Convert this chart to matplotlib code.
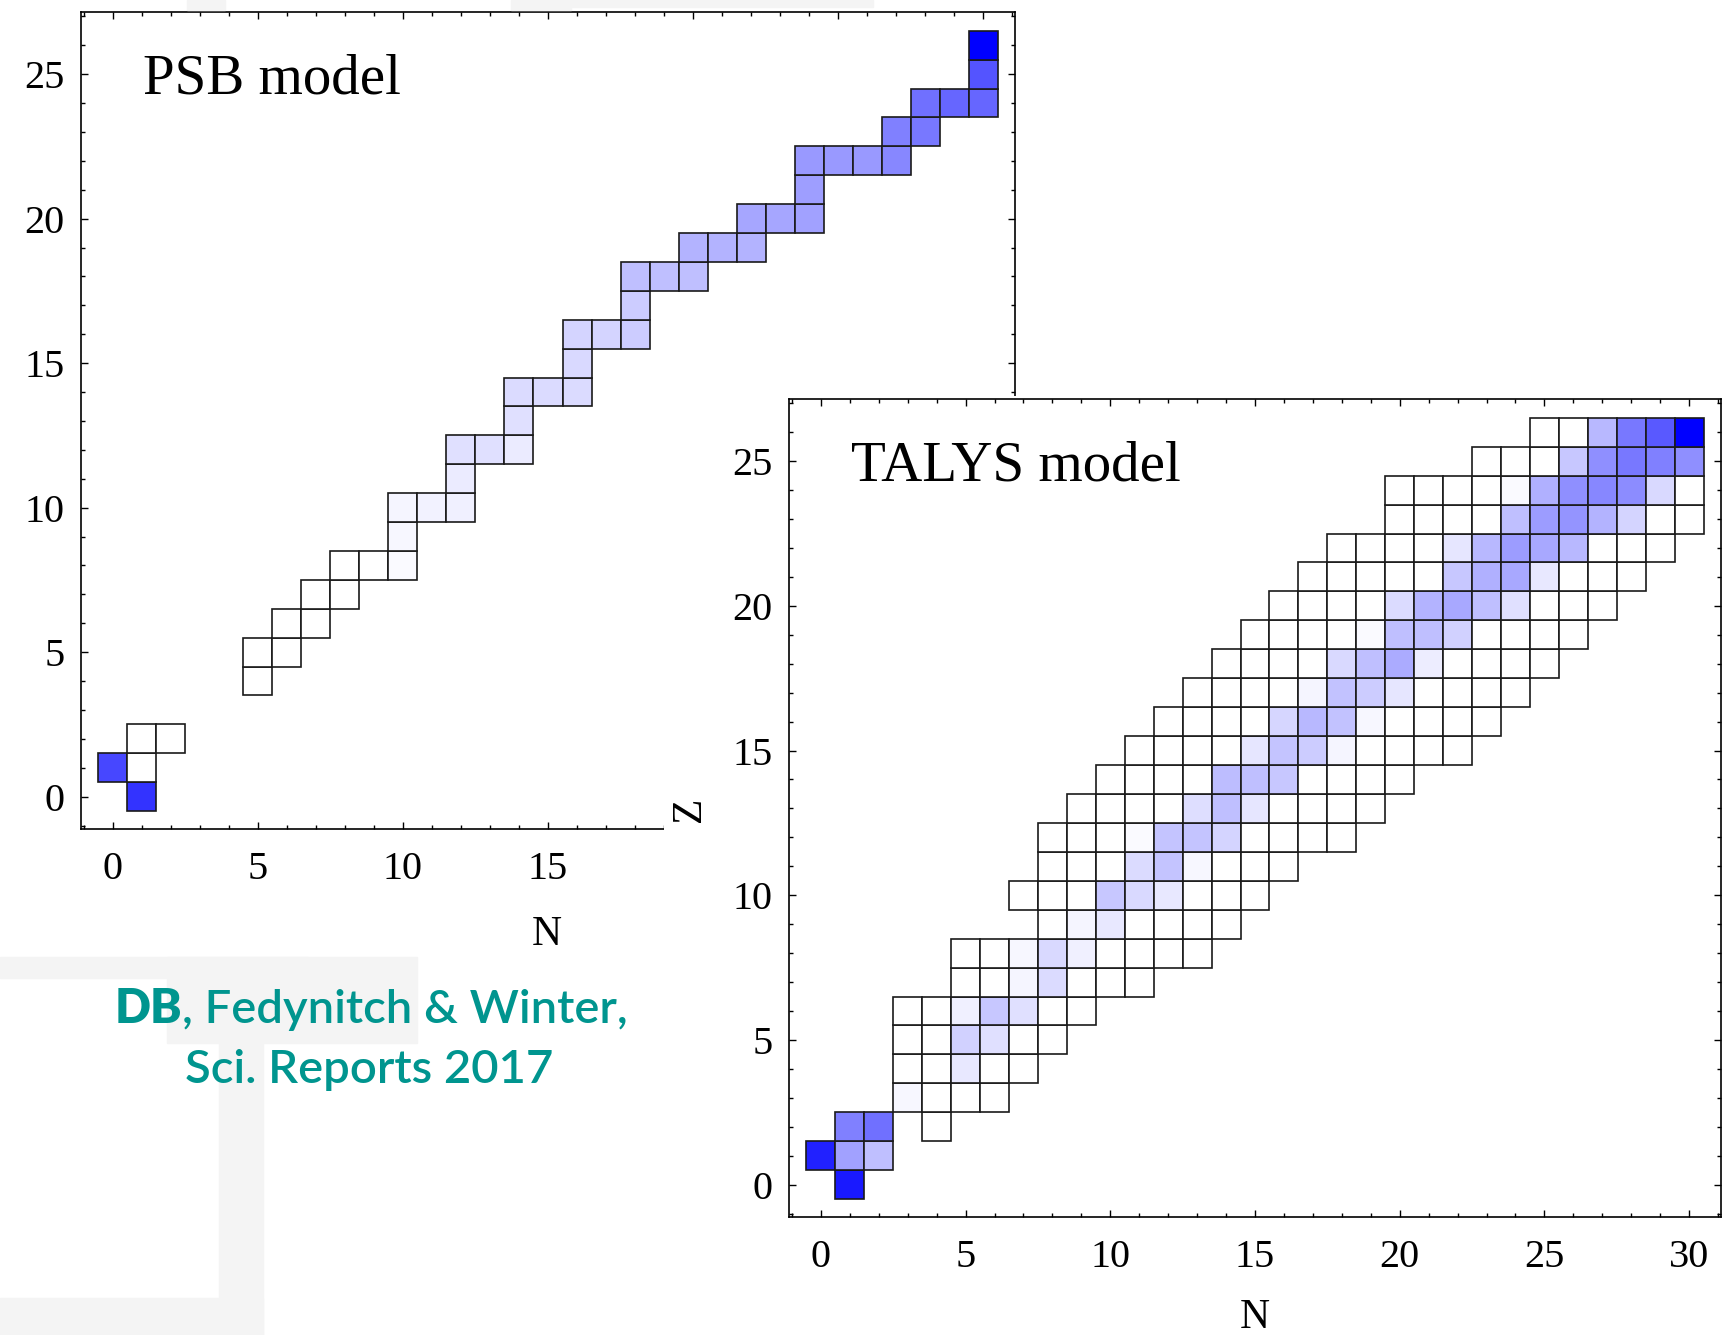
import matplotlib
matplotlib.use("Agg")
import matplotlib.pyplot as plt
from matplotlib.patches import Rectangle
from matplotlib.ticker import MultipleLocator

# --- data ---
# PSB model: occupied cells (N, Z) and blue shade (0 = white, 1 = pure blue)
psb_N = [1, 0, 1, 1, 2,
         5, 5, 6, 6, 7, 7, 8, 8, 9, 10, 10, 10, 11, 12, 12, 12, 13, 14, 14, 14,
         15, 16, 16, 16, 17, 18, 18, 18, 19, 20, 20, 21, 22, 22, 23, 24, 24, 24,
         25, 26, 27, 27, 28, 28, 29, 30, 30, 30]
psb_Z = [0, 1, 1, 2, 2,
         4, 5, 5, 6, 6, 7, 7, 8, 8, 8, 9, 10, 10, 10, 11, 12, 12, 12, 13, 14,
         14, 14, 15, 16, 16, 16, 17, 18, 18, 18, 19, 19, 19, 20, 20, 20, 21, 22,
         22, 22, 22, 23, 23, 24, 24, 24, 25, 26]
psb_f = [0.80, 0.72, 0.0, 0.0, 0.0,
         0.0, 0.0, 0.0, 0.0, 0.0, 0.0, 0.0, 0.0, 0.0, 0.02, 0.03, 0.04, 0.05, 0.06, 0.08, 0.12, 0.12, 0.08, 0.12, 0.14,
         0.14, 0.14, 0.15, 0.17, 0.17, 0.20, 0.20, 0.25, 0.25, 0.25, 0.30, 0.30, 0.30, 0.35, 0.35, 0.37, 0.38, 0.40,
         0.40, 0.40, 0.47, 0.50, 0.53, 0.56, 0.60, 0.60, 0.67, 1.00]

# TALYS model: row segments (Z, first N, last N)
talys_rows = [(0, 1, 1), (1, 0, 2), (2, 1, 2), (2, 4, 4), (3, 3, 6), (4, 3, 7),
              (5, 3, 8), (6, 3, 9), (7, 5, 11), (8, 5, 13), (9, 8, 14), (10, 7, 15),
              (11, 8, 16), (12, 8, 18), (13, 9, 19), (14, 10, 20), (15, 11, 22),
              (16, 12, 23), (17, 13, 24), (18, 14, 25), (19, 15, 26), (20, 16, 27),
              (21, 17, 28), (22, 18, 29), (23, 20, 30), (24, 20, 30), (25, 23, 30),
              (26, 25, 30)]
# TALYS shaded cells {(N, Z): shade}, everything else white
talys_shade = {
    (1, 0): 0.90,
    (0, 1): 0.87, (1, 1): 0.37, (2, 1): 0.25,
    (1, 2): 0.50, (2, 2): 0.56,
    (3, 3): 0.03,
    (5, 4): 0.09,
    (5, 5): 0.18, (6, 5): 0.12,
    (5, 6): 0.06, (6, 6): 0.22, (7, 6): 0.12,
    (7, 7): 0.04, (8, 7): 0.14,
    (7, 8): 0.03, (8, 8): 0.15, (9, 8): 0.06,
    (9, 9): 0.04, (10, 9): 0.09,
    (10, 10): 0.22, (11, 10): 0.15, (12, 10): 0.09,
    (11, 11): 0.14, (12, 11): 0.23, (13, 11): 0.03,
    (11, 12): 0.02, (12, 12): 0.23, (13, 12): 0.23, (14, 12): 0.17,
    (13, 13): 0.13, (14, 13): 0.25, (15, 13): 0.10,
    (14, 14): 0.26, (15, 14): 0.25, (16, 14): 0.22,
    (15, 15): 0.10, (16, 15): 0.23, (17, 15): 0.20, (18, 15): 0.04,
    (16, 16): 0.16, (17, 16): 0.28, (18, 16): 0.24, (19, 16): 0.03,
    (17, 17): 0.04, (18, 17): 0.24, (19, 17): 0.20, (20, 17): 0.10,
    (18, 18): 0.15, (19, 18): 0.25, (20, 18): 0.33, (21, 18): 0.07,
    (19, 19): 0.02, (20, 19): 0.25, (21, 19): 0.25, (22, 19): 0.18,
    (20, 20): 0.14, (21, 20): 0.30, (22, 20): 0.34, (23, 20): 0.25, (24, 20): 0.12,
    (22, 21): 0.22, (23, 21): 0.31, (24, 21): 0.34, (25, 21): 0.09,
    (22, 22): 0.10, (23, 22): 0.28, (24, 22): 0.39, (25, 22): 0.34, (26, 22): 0.28,
    (24, 23): 0.25, (25, 23): 0.39, (26, 23): 0.42, (27, 23): 0.30, (28, 23): 0.17,
    (24, 24): 0.02, (25, 24): 0.31, (26, 24): 0.44, (27, 24): 0.47, (28, 24): 0.45, (29, 24): 0.15,
    (26, 25): 0.22, (27, 25): 0.44, (28, 25): 0.53, (29, 25): 0.50, (30, 25): 0.44,
    (27, 26): 0.28, (28, 26): 0.53, (29, 26): 0.65, (30, 26): 1.00,
}

x_ticks = [0, 5, 10, 15, 20, 25, 30]
y_ticks = [0, 5, 10, 15, 20, 25]
titles = ["PSB model", "TALYS model"]
citation_bold = "DB"
citation_rest = ", Fedynitch & Winter,"
citation_line2 = "Sci. Reports 2017"

# --- figure ---
W, H = 1722, 1335
fig = plt.figure(figsize=(W / 100, H / 100), dpi=100)
serif = ["Liberation Serif", "DejaVu Serif"]
teal = "#00958f"
wm = "#f4f4f4"


def px_box(x0, y0, x1, y1):
    return [x0 / W, 1 - y1 / H, (x1 - x0) / W, (y1 - y0) / H]


# faint watermark in the background
for (x0, y0, x1, y1) in [(187, 0, 225, 10), (511, 0, 571, 10), (571, 0, 873, 7),
                         (0, 957, 308, 978), (167, 957, 417, 1043),
                         (219, 1043, 263, 1335), (0, 1298, 263, 1335)]:
    fig.patches.append(Rectangle((x0 / W, 1 - y1 / H), (x1 - x0) / W, (y1 - y0) / H,
                                 transform=fig.transFigure, color=wm, zorder=0))


def shade(f):
    return (1 - f, 1 - f, 1.0)


def style_axes(ax):
    ax.set_xlim(-1.1, 31.1)
    ax.set_ylim(-1.12, 27.15)
    ax.xaxis.set_major_locator(MultipleLocator(5))
    ax.yaxis.set_major_locator(MultipleLocator(5))
    ax.xaxis.set_minor_locator(MultipleLocator(1))
    ax.yaxis.set_minor_locator(MultipleLocator(1))
    ax.tick_params(which="both", direction="in", top=True, right=True, width=1.0)
    ax.tick_params(which="major", length=5)
    ax.tick_params(which="minor", length=3)
    ax.tick_params(axis="x", which="major", pad=16, labelsize=29)
    ax.tick_params(axis="y", which="major", pad=12, labelsize=29)
    ax.set_xticks(x_ticks)
    ax.set_yticks(y_ticks)
    for lab in ax.get_xticklabels() + ax.get_yticklabels():
        lab.set_family(serif)
    for sp in ax.spines.values():
        sp.set_linewidth(1.2)


# PSB panel
ax1 = fig.add_axes(px_box(81, 12, 1015, 829))
ax1.bar(psb_N, 1, bottom=[z - 0.5 for z in psb_Z], width=1,
        color=[shade(f) for f in psb_f], edgecolor="#1a1a1a", linewidth=1.2)
style_axes(ax1)
ax1.text(0.066, 0.90, titles[0], transform=ax1.transAxes, fontsize=41,
         family=serif, va="baseline")
fig.text(547 / W, 1 - 935 / H, "N", fontsize=30, family=serif, ha="center", va="center")

# white card behind the TALYS panel, covering the PSB corner
cover = fig.add_axes(px_box(664, 396, W, H))
cover.set_facecolor("white")
cover.set_xticks([])
cover.set_yticks([])
for sp in cover.spines.values():
    sp.set_visible(False)

# TALYS panel
ax2 = fig.add_axes(px_box(789, 399, 1721, 1217))
tN, tZ, tC = [], [], []
for z, n0, n1 in talys_rows:
    for n in range(n0, n1 + 1):
        tN.append(n)
        tZ.append(z - 0.5)
        tC.append(shade(talys_shade.get((n, z), 0.0)))
ax2.bar(tN, 1, bottom=tZ, width=1, color=tC, edgecolor="#1a1a1a", linewidth=1.2)
style_axes(ax2)
ax2.text(0.0665, 0.90, titles[1], transform=ax2.transAxes, fontsize=41,
         family=serif, va="baseline")
fig.text(1255 / W, 1 - 1318 / H, "N", fontsize=30, family=serif, ha="center", va="center")
fig.text(690 / W, 1 - 809 / H, "Z", fontsize=30, family=serif, ha="center", va="center",
         rotation=90)

# citation, centred, with bold initials
sans = ["Lato", "DejaVu Sans"]
fig.canvas.draw()
rend = fig.canvas.get_renderer()
tb = fig.text(0, 0, citation_bold, fontsize=34, family=sans, weight="heavy", color=teal)
tr = fig.text(0, 0, citation_rest, fontsize=34, family=sans, weight="semibold", color=teal)
wb = tb.get_window_extent(rend).width
wr = tr.get_window_extent(rend).width
x_start = 371 - (wb + wr) / 2
y1 = 1 - 1023 / H
tb.set_position((x_start / W, y1))
tb.set_va("baseline")
tr.set_position(((x_start + wb) / W, y1))
tr.set_va("baseline")
fig.text(369 / W, 1 - 1083 / H, citation_line2, fontsize=34, family=sans, weight="semibold",
         color=teal, ha="center", va="baseline")

fig.savefig("out.png", dpi=100, facecolor="white")
